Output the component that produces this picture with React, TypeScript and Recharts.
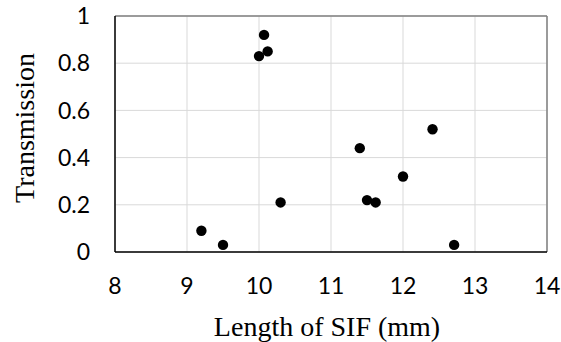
import React from "react";
import {
  ScatterChart,
  Scatter,
  XAxis,
  YAxis,
  CartesianGrid,
  ReferenceLine,
  Label,
} from "recharts";

const lengths = [9.2, 9.5, 10.0, 10.07, 10.12, 10.3, 11.4, 11.5, 11.62, 12.0, 12.41, 12.71];
const transmissions = [0.09, 0.03, 0.83, 0.92, 0.85, 0.21, 0.44, 0.22, 0.21, 0.32, 0.52, 0.03];
const xTicks = [8, 9, 10, 11, 12, 13, 14];
const yTicks = [0, 0.2, 0.4, 0.6, 0.8, 1];
const xTitle = "Length of SIF (mm)";
const yTitle = "Transmission";

const data = lengths.map((x, i) => ({ x, y: transmissions[i] }));

const tickFont = { fontFamily: "Lato, 'Liberation Sans', sans-serif", fontSize: 23, fill: "#000" };
const titleFont = "'Liberation Serif', 'Times New Roman', serif";

const Dot = (props: any) => {
  const { cx, cy } = props;
  if (cx == null || cy == null) return null;
  return <circle cx={cx} cy={cy} r={5.2} fill="#000" />;
};

export default function App() {
  return (
    <div style={{ position: "absolute", left: 0, top: 0, background: "#fff" }}>
      <ScatterChart
        width={561}
        height={342}
        margin={{ top: 16, right: 14, left: 0, bottom: 0 }}
      >
        <CartesianGrid stroke="#d9d9d9" strokeWidth={1} />
        <XAxis
          type="number"
          dataKey="x"
          domain={[8, 14]}
          ticks={xTicks}
          interval={0}
          height={90}
          stroke="#000"
          tickLine={false}
          tickSize={0}
          tickMargin={26}
          axisLine={{ stroke: "#000", strokeWidth: 1.5 }}
          tick={tickFont}
        >
          <Label
            content={(p: any) => {
              const vb = p.viewBox || {};
              return (
                <text
                  x={vb.x + vb.width / 2 - 4}
                  y={vb.y + 84}
                  textAnchor="middle"
                  fontFamily={titleFont}
                  fontSize={28}
                  fill="#000"
                >
                  {xTitle}
                </text>
              );
            }}
          />
        </XAxis>
        <YAxis
          type="number"
          dataKey="y"
          domain={[0, 1]}
          ticks={yTicks}
          interval={0}
          width={115}
          stroke="#000"
          tickLine={false}
          tickSize={0}
          tickMargin={25}
          axisLine={{ stroke: "#000", strokeWidth: 1.5 }}
          tick={tickFont}
        >
          <Label
            content={(p: any) => {
              const vb = p.viewBox || {};
              const cx = 34;
              const cy = vb.y + vb.height / 2 - 6;
              return (
                <text
                  x={cx}
                  y={cy}
                  transform={`rotate(-90 ${cx} ${cy})`}
                  textAnchor="middle"
                  fontFamily={titleFont}
                  fontSize={28}
                  fill="#000"
                >
                  {yTitle}
                </text>
              );
            }}
          />
        </YAxis>
        <ReferenceLine y={1} stroke="#808080" strokeWidth={1.5} />
        <ReferenceLine x={14} stroke="#808080" strokeWidth={1.5} />
        <Scatter data={data} shape={<Dot />} isAnimationActive={false} />
      </ScatterChart>
    </div>
  );
}
